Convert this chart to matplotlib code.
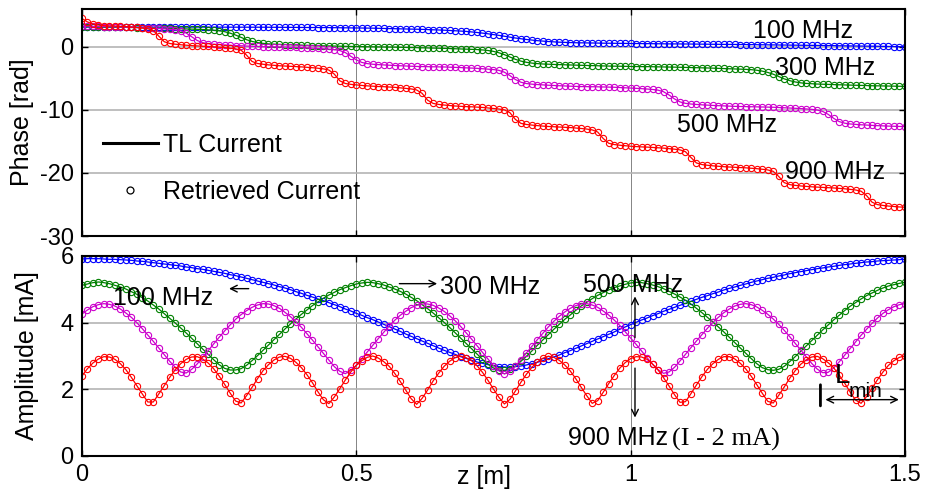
import numpy as np
import matplotlib.pyplot as plt
from matplotlib.lines import Line2D

plt.rcParams['font.family'] = ['Liberation Sans', 'DejaVu Sans']
plt.rcParams['axes.unicode_minus'] = False

# sample positions along the line, 1 cm apart
z = np.linspace(0.0, 1.5, 151)

# unwrapped phase [rad]
phase_100 = [3.14, 3.14, 3.14, 3.14, 3.14, 3.14, 3.14, 3.14, 3.14, 3.14,
             3.14, 3.14, 3.14, 3.14, 3.14, 3.13, 3.13, 3.13, 3.13, 3.13,
             3.13, 3.13, 3.13, 3.13, 3.12, 3.12, 3.12, 3.12, 3.12, 3.12,
             3.12, 3.11, 3.11, 3.11, 3.10, 3.10, 3.10, 3.09, 3.09, 3.08,
             3.08, 3.07, 3.07, 3.06, 3.06, 3.05, 3.04, 3.03, 3.02, 3.01,
             3.00, 2.99, 2.97, 2.96, 2.94, 2.92, 2.90, 2.88, 2.86, 2.84,
             2.82, 2.79, 2.77, 2.74, 2.71, 2.68, 2.64, 2.60, 2.55, 2.50,
             2.45, 2.37, 2.28, 2.18, 2.07, 1.95, 1.82, 1.68, 1.54, 1.40,
             1.28, 1.17, 1.07, 0.98, 0.91, 0.84, 0.79, 0.74, 0.71, 0.68,
             0.65, 0.64, 0.62, 0.61, 0.59, 0.58, 0.57, 0.56, 0.55, 0.54,
             0.53, 0.52, 0.51, 0.51, 0.50, 0.49, 0.48, 0.47, 0.47, 0.46,
             0.45, 0.44, 0.43, 0.43, 0.42, 0.41, 0.40, 0.39, 0.39, 0.38,
             0.37, 0.36, 0.35, 0.34, 0.33, 0.32, 0.31, 0.30, 0.29, 0.28,
             0.27, 0.26, 0.25, 0.24, 0.22, 0.21, 0.20, 0.19, 0.17, 0.16,
             0.15, 0.14, 0.13, 0.11, 0.10, 0.09, 0.07, 0.06, 0.05, 0.03,
             0.02]
phase_300 = [3.20, 3.18, 3.17, 3.15, 3.14, 3.13, 3.12, 3.11, 3.09, 3.07,
             3.06, 3.04, 3.02, 3.00, 2.97, 2.95, 2.92, 2.90, 2.87, 2.84,
             2.81, 2.78, 2.75, 2.70, 2.64, 2.55, 2.40, 2.17, 1.87, 1.50,
             1.13, 0.86, 0.68, 0.55, 0.47, 0.42, 0.38, 0.35, 0.32, 0.29,
             0.26, 0.23, 0.21, 0.18, 0.16, 0.13, 0.11, 0.09, 0.08, 0.06,
             0.04, 0.03, 0.01, 0.00, -0.01, -0.02, -0.03, -0.05, -0.07, -0.08,
             -0.10, -0.12, -0.14, -0.17, -0.19, -0.22, -0.24, -0.27, -0.30, -0.33,
             -0.36, -0.39, -0.43, -0.49, -0.58, -0.72, -0.94, -1.24, -1.61, -1.98,
             -2.26, -2.45, -2.58, -2.66, -2.72, -2.76, -2.79, -2.82, -2.85, -2.88,
             -2.91, -2.93, -2.95, -2.98, -3.00, -3.03, -3.05, -3.06, -3.08, -3.09,
             -3.11, -3.13, -3.14, -3.14, -3.16, -3.17, -3.19, -3.20, -3.22, -3.24,
             -3.26, -3.28, -3.30, -3.33, -3.35, -3.38, -3.40, -3.43, -3.47, -3.49,
             -3.53, -3.57, -3.62, -3.71, -3.85, -4.06, -4.34, -4.71, -5.08, -5.36,
             -5.57, -5.71, -5.80, -5.85, -5.90, -5.93, -5.95, -5.99, -6.02, -6.04,
             -6.07, -6.09, -6.12, -6.14, -6.17, -6.18, -6.20, -6.22, -6.23, -6.25,
             -6.27]
phase_500 = [3.32, 3.28, 3.25, 3.23, 3.21, 3.19, 3.18, 3.16, 3.14, 3.11,
             3.08, 3.04, 3.00, 2.96, 2.91, 2.85, 2.79, 2.71, 2.54, 2.19,
             1.60, 1.01, 0.66, 0.49, 0.41, 0.35, 0.29, 0.24, 0.20, 0.16,
             0.12, 0.09, 0.06, 0.04, 0.02, 0.01, -0.01, -0.03, -0.05, -0.08,
             -0.12, -0.17, -0.21, -0.25, -0.31, -0.36, -0.45, -0.59, -0.91, -1.48,
             -2.07, -2.47, -2.66, -2.76, -2.82, -2.87, -2.92, -2.96, -3.00, -3.05,
             -3.08, -3.11, -3.13, -3.15, -3.16, -3.18, -3.19, -3.22, -3.25, -3.29,
             -3.33, -3.37, -3.41, -3.47, -3.53, -3.60, -3.73, -4.02, -4.55, -5.18,
             -5.61, -5.82, -5.92, -5.98, -6.03, -6.09, -6.13, -6.17, -6.21, -6.24,
             -6.27, -6.30, -6.31, -6.33, -6.34, -6.36, -6.39, -6.41, -6.45, -6.49,
             -6.53, -6.58, -6.63, -6.69, -6.76, -6.87, -7.12, -7.63, -8.26, -8.73,
             -8.96, -9.07, -9.14, -9.20, -9.25, -9.29, -9.33, -9.37, -9.41, -9.44,
             -9.46, -9.48, -9.50, -9.51, -9.53, -9.55, -9.58, -9.62, -9.66, -9.70,
             -9.74, -9.79, -9.85, -9.91, -10.02, -10.24, -10.70, -11.33, -11.85, -12.10,
             -12.23, -12.30, -12.36, -12.41, -12.46, -12.50, -12.54, -12.57, -12.60, -12.63,
             -12.65]
phase_900 = [4.50, 3.95, 3.62, 3.46, 3.36, 3.32, 3.30, 3.26, 3.21, 3.14,
             3.07, 2.98, 2.87, 2.59, 1.70, 0.81, 0.53, 0.42, 0.33, 0.26,
             0.19, 0.14, 0.10, 0.07, 0.01, -0.05, -0.12, -0.21, -0.31, -0.53,
             -1.32, -2.32, -2.64, -2.76, -2.86, -2.93, -3.00, -3.05, -3.09, -3.13,
             -3.18, -3.24, -3.31, -3.39, -3.49, -3.68, -4.33, -5.39, -5.81, -5.95,
             -6.04, -6.12, -6.19, -6.24, -6.29, -6.32, -6.37, -6.42, -6.50, -6.58,
             -6.67, -6.84, -7.38, -8.46, -8.97, -9.13, -9.23, -9.31, -9.38, -9.43,
             -9.48, -9.51, -9.56, -9.61, -9.69, -9.76, -9.86, -10.00, -10.44, -11.51,
             -12.13, -12.31, -12.41, -12.49, -12.57, -12.63, -12.67, -12.71, -12.75, -12.80,
             -12.87, -12.95, -13.04, -13.17, -13.51, -14.53, -15.29, -15.49, -15.60, -15.68,
             -15.76, -15.82, -15.87, -15.90, -15.95, -16.00, -16.06, -16.14, -16.23, -16.34,
             -16.63, -17.55, -18.41, -18.67, -18.78, -18.87, -18.94, -19.01, -19.06, -19.10,
             -19.14, -19.19, -19.25, -19.32, -19.41, -19.52, -19.75, -20.56, -21.53, -21.85,
             -21.97, -22.06, -22.13, -22.20, -22.25, -22.29, -22.33, -22.38, -22.44, -22.51,
             -22.60, -22.70, -22.89, -23.58, -24.63, -25.02, -25.15, -25.25, -25.32, -25.39,
             -25.44]

# current amplitude [mA] (900 MHz curve shifted down by 2 mA)
amp_100 = [5.91, 5.92, 5.92, 5.92, 5.91, 5.90, 5.90, 5.89, 5.88, 5.87,
           5.85, 5.84, 5.82, 5.80, 5.78, 5.76, 5.74, 5.72, 5.70, 5.67,
           5.65, 5.62, 5.60, 5.57, 5.54, 5.51, 5.48, 5.44, 5.41, 5.37,
           5.33, 5.29, 5.25, 5.21, 5.17, 5.13, 5.08, 5.04, 4.99, 4.93,
           4.88, 4.82, 4.77, 4.71, 4.66, 4.60, 4.54, 4.48, 4.41, 4.35,
           4.28, 4.22, 4.15, 4.09, 4.02, 3.95, 3.88, 3.81, 3.74, 3.66,
           3.59, 3.52, 3.45, 3.38, 3.31, 3.24, 3.17, 3.11, 3.05, 2.98,
           2.93, 2.87, 2.82, 2.78, 2.74, 2.71, 2.68, 2.67, 2.66, 2.68,
           2.70, 2.73, 2.77, 2.81, 2.86, 2.92, 2.97, 3.03, 3.10, 3.16,
           3.23, 3.30, 3.37, 3.44, 3.51, 3.58, 3.65, 3.72, 3.80, 3.87,
           3.94, 4.01, 4.08, 4.14, 4.21, 4.27, 4.34, 4.40, 4.46, 4.52,
           4.58, 4.64, 4.70, 4.76, 4.81, 4.87, 4.92, 4.98, 5.03, 5.07,
           5.12, 5.16, 5.21, 5.25, 5.29, 5.33, 5.36, 5.40, 5.43, 5.47,
           5.50, 5.53, 5.56, 5.59, 5.62, 5.64, 5.67, 5.69, 5.72, 5.74,
           5.76, 5.78, 5.80, 5.82, 5.83, 5.85, 5.86, 5.87, 5.88, 5.89,
           5.90]
amp_300 = [5.12, 5.16, 5.20, 5.22, 5.20, 5.17, 5.12, 5.07, 5.01, 4.93,
           4.85, 4.75, 4.65, 4.53, 4.41, 4.27, 4.13, 3.99, 3.84, 3.69,
           3.53, 3.37, 3.21, 3.05, 2.89, 2.74, 2.63, 2.58, 2.58, 2.62,
           2.72, 2.86, 3.01, 3.17, 3.33, 3.49, 3.65, 3.81, 3.96, 4.11,
           4.25, 4.38, 4.51, 4.62, 4.73, 4.83, 4.91, 4.99, 5.05, 5.11,
           5.16, 5.19, 5.21, 5.20, 5.17, 5.13, 5.07, 5.01, 4.94, 4.86,
           4.76, 4.66, 4.54, 4.42, 4.29, 4.15, 4.01, 3.86, 3.70, 3.54,
           3.38, 3.22, 3.06, 2.90, 2.76, 2.64, 2.58, 2.57, 2.61, 2.70,
           2.84, 2.99, 3.15, 3.32, 3.48, 3.64, 3.80, 3.95, 4.10, 4.23,
           4.37, 4.50, 4.61, 4.72, 4.82, 4.90, 4.98, 5.05, 5.10, 5.15,
           5.19, 5.21, 5.20, 5.17, 5.13, 5.08, 5.02, 4.94, 4.86, 4.77,
           4.67, 4.56, 4.43, 4.30, 4.16, 4.02, 3.87, 3.72, 3.56, 3.40,
           3.24, 3.08, 2.92, 2.77, 2.65, 2.59, 2.57, 2.60, 2.69, 2.83,
           2.98, 3.14, 3.30, 3.46, 3.62, 3.78, 3.93, 4.08, 4.22, 4.36,
           4.49, 4.60, 4.71, 4.81, 4.89, 4.97, 5.04, 5.10, 5.14, 5.18,
           5.21]
amp_500 = [4.26, 4.38, 4.48, 4.54, 4.57, 4.55, 4.50, 4.41, 4.29, 4.16,
           4.00, 3.82, 3.63, 3.44, 3.24, 3.04, 2.84, 2.66, 2.52, 2.49,
           2.60, 2.76, 2.96, 3.16, 3.36, 3.56, 3.75, 3.93, 4.10, 4.24,
           4.36, 4.46, 4.53, 4.57, 4.56, 4.51, 4.43, 4.31, 4.18, 4.03,
           3.86, 3.67, 3.48, 3.28, 3.08, 2.88, 2.68, 2.54, 2.47, 2.57,
           2.72, 2.92, 3.12, 3.32, 3.52, 3.71, 3.90, 4.07, 4.22, 4.34,
           4.45, 4.52, 4.56, 4.56, 4.52, 4.44, 4.34, 4.21, 4.06, 3.89,
           3.70, 3.51, 3.31, 3.11, 2.91, 2.71, 2.56, 2.46, 2.54, 2.69,
           2.89, 3.09, 3.29, 3.49, 3.68, 3.87, 4.04, 4.19, 4.32, 4.43,
           4.51, 4.56, 4.57, 4.53, 4.46, 4.35, 4.23, 4.08, 3.92, 3.73,
           3.54, 3.35, 3.15, 2.95, 2.75, 2.59, 2.48, 2.52, 2.66, 2.85,
           3.05, 3.25, 3.45, 3.64, 3.83, 4.01, 4.16, 4.30, 4.41, 4.50,
           4.55, 4.57, 4.54, 4.47, 4.37, 4.25, 4.11, 3.95, 3.77, 3.58,
           3.38, 3.18, 2.98, 2.78, 2.61, 2.50, 2.51, 2.64, 2.82, 3.02,
           3.22, 3.42, 3.62, 3.80, 3.98, 4.14, 4.28, 4.39, 4.48, 4.54,
           4.57]
amp_900 = [2.40, 2.62, 2.79, 2.91, 2.98, 2.97, 2.90, 2.77, 2.59, 2.36,
           2.11, 1.86, 1.62, 1.62, 1.86, 2.11, 2.36, 2.59, 2.77, 2.90,
           2.97, 2.98, 2.91, 2.79, 2.62, 2.40, 2.15, 1.89, 1.65, 1.59,
           1.81, 2.06, 2.32, 2.56, 2.74, 2.88, 2.97, 2.99, 2.93, 2.81,
           2.65, 2.44, 2.20, 1.93, 1.69, 1.57, 1.77, 2.02, 2.28, 2.52,
           2.72, 2.86, 2.96, 3.00, 2.94, 2.83, 2.69, 2.48, 2.24, 1.98,
           1.72, 1.55, 1.73, 1.98, 2.25, 2.48, 2.69, 2.84, 2.95, 3.00,
           2.95, 2.86, 2.71, 2.51, 2.27, 2.01, 1.76, 1.56, 1.70, 1.95,
           2.21, 2.45, 2.66, 2.82, 2.93, 2.99, 2.96, 2.87, 2.73, 2.55,
           2.32, 2.06, 1.81, 1.58, 1.66, 1.91, 2.17, 2.41, 2.63, 2.80,
           2.92, 2.98, 2.97, 2.90, 2.76, 2.58, 2.35, 2.10, 1.84, 1.61,
           1.63, 1.87, 2.13, 2.38, 2.60, 2.77, 2.90, 2.98, 2.98, 2.91,
           2.78, 2.61, 2.39, 2.14, 1.88, 1.64, 1.59, 1.82, 2.07, 2.33,
           2.56, 2.75, 2.88, 2.97, 2.99, 2.92, 2.80, 2.65, 2.43, 2.19,
           1.92, 1.68, 1.58, 1.78, 2.03, 2.29, 2.52, 2.72, 2.86, 2.96,
           3.00]

phases = [phase_100, phase_300, phase_500, phase_900]
amps = [amp_100, amp_300, amp_500, amp_900]
colors = ['#0000ff', '#008000', '#cc00cc', '#ff0000']

fig = plt.figure(figsize=(9.25, 4.92), dpi=100)
ax1 = fig.add_axes([0.0886, 0.5203, 0.8897, 0.4614])
ax2 = fig.add_axes([0.0886, 0.0732, 0.8897, 0.4065])

for ph, am, c in zip(phases, amps, colors):
    ax1.plot(z, ph, '-o', color=c, lw=0.9, ms=4.5, mfc='none', mew=0.8)
    ax2.plot(z, am, '-o', color=c, lw=0.9, ms=4.5, mfc='none', mew=0.8)

for ax in (ax1, ax2):
    ax.set_xlim(0, 1.5)
    ax.set_xticks([0, 0.5, 1, 1.5])
    ax.set_axisbelow(True)
    ax.grid(axis='y', color='#b4b4b4', lw=1.2)
    ax.grid(axis='x', color='#707070', lw=0.6)
    ax.tick_params(direction='in', length=4, width=1, top=True, right=True,
                   labelsize=17, pad=6)
    for s in ax.spines.values():
        s.set_linewidth(1.5)

ax1.set_ylim(-30, 6)
ax1.set_yticks([-30, -20, -10, 0])
ax1.tick_params(labelbottom=False)
ax1.set_ylabel('Phase [rad]', fontsize=18)
ax1.yaxis.set_label_coords(-0.058, 0.5)

ax2.set_ylim(0, 6)
ax2.set_yticks([0, 2, 4, 6])
ax2.set_xticklabels(['0', '0.5', '1', '1.5'])
ax2.set_ylabel('Amplitude [mA]', fontsize=18)
ax2.yaxis.set_label_coords(-0.052, 0.5)
ax2.set_xlabel('z [m]', fontsize=18, va='center')
ax2.xaxis.set_label_coords(0.489, -0.105)

# legend
handles = [Line2D([], [], color='k', lw=2.2),
           Line2D([], [], color='k', lw=0, marker='o', ms=5, mfc='none', mew=0.9)]
ax1.legend(handles, ['TL Current', 'Retrieved Current'], loc='upper left',
           bbox_to_anchor=(0.0255, 0.453), frameon=False, fontsize=18,
           handlelength=2.2, handletextpad=0.2, labelspacing=0.9,
           borderpad=0, borderaxespad=0)

# phase labels
ax1.text(1.223, 1.34, '100 MHz', fontsize=18)
ax1.text(1.263, -4.52, '300 MHz', fontsize=18)
ax1.text(1.084, -13.58, '500 MHz', fontsize=18)
ax1.text(1.281, -21.02, '900 MHz', fontsize=18)

# amplitude labels and arrows
arr = dict(arrowstyle='->', color='k', lw=1.0, mutation_scale=12)
ax2.text(0.0565, 4.52, '100 MHz', fontsize=18)
ax2.annotate('', xy=(0.263, 5.02), xytext=(0.309, 5.02), arrowprops=arr)
ax2.text(0.652, 4.85, '300 MHz', fontsize=18)
ax2.annotate('', xy=(0.6525, 5.17), xytext=(0.5735, 5.17), arrowprops=arr)
ax2.text(0.913, 4.92, '500 MHz', fontsize=18)
ax2.annotate('', xy=(1.008, 4.87), xytext=(1.008, 3.47), arrowprops=arr)
ax2.annotate('', xy=(1.008, 1.07), xytext=(1.008, 2.72), arrowprops=arr)
ax2.text(0.886, 0.32, '900 MHz', fontsize=18)
ax2.text(1.075, 0.32, '(I - 2 mA)', fontsize=19, family='Liberation Serif')

# L_min marker
ax2.annotate('', xy=(1.346, 1.42), xytext=(1.346, 2.22),
             arrowprops=dict(arrowstyle='-', color='k', lw=2))
ax2.annotate('', xy=(1.494, 1.69), xytext=(1.35, 1.69),
             arrowprops=dict(arrowstyle='<->', color='k', lw=1.0, mutation_scale=12))
ax2.text(1.372, 2.18, 'L', fontsize=20)
ax2.text(1.398, 1.76, 'min', fontsize=15)

fig.savefig('out.png', dpi=100)
